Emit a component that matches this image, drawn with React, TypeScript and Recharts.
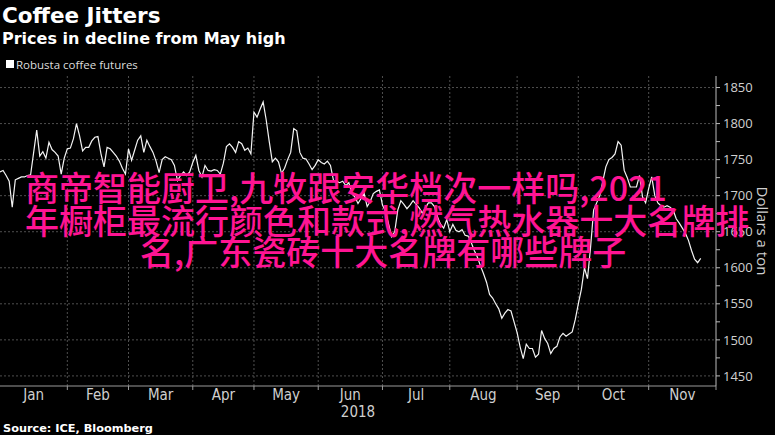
import React from 'react';
import { LineChart, Line, XAxis, YAxis, CartesianGrid } from 'recharts';

// Robusta coffee futures, daily closes 2018 (trading-day index), dollars a ton
const prices: number[] = [
  1733, 1735, 1728, 1720, 1684, 1722, 1724, 1726, 1726, 1728,
  1729, 1760, 1791, 1755, 1761, 1752, 1774, 1764, 1760, 1755,
  1730, 1752, 1765, 1766, 1779, 1800, 1783, 1762, 1767, 1767,
  1776, 1781, 1782, 1758, 1740, 1767, 1765, 1760, 1755, 1748,
  1738, 1730, 1765, 1749, 1763, 1777, 1783, 1760, 1777, 1768,
  1760, 1748, 1732, 1750, 1754, 1752, 1750, 1742, 1721, 1728,
  1733, 1728, 1733, 1746, 1756, 1735, 1726, 1742, 1735, 1734,
  1736, 1735, 1730, 1745, 1768, 1772, 1767, 1760, 1775, 1772,
  1763, 1766, 1758, 1816, 1809, 1820, 1830, 1805, 1775, 1747,
  1752, 1747, 1731, 1738, 1750, 1760, 1793, 1790, 1760, 1752,
  1751, 1744, 1736, 1742, 1750, 1746, 1744, 1748, 1742, 1721,
  1720, 1718, 1720, 1714, 1718, 1703, 1698, 1689, 1696, 1703,
  1685, 1692, 1703, 1706, 1708, 1687, 1678, 1660, 1643, 1650,
  1680, 1693, 1688, 1682, 1687, 1693, 1688, 1683, 1676, 1683,
  1690, 1690, 1685, 1670, 1660, 1655, 1667, 1650, 1660, 1652,
  1650, 1653, 1645, 1644, 1635, 1624, 1615, 1603, 1592, 1580,
  1563, 1558, 1550, 1543, 1530, 1537, 1542, 1540, 1525, 1510,
  1490, 1474, 1494, 1488, 1488, 1476, 1480, 1513, 1502, 1495,
  1481, 1488, 1491, 1504, 1509, 1505, 1508, 1511, 1528, 1550,
  1570, 1600, 1585, 1628, 1680, 1690, 1700, 1720, 1740, 1750,
  1753, 1758, 1775, 1770, 1735, 1725, 1712, 1712, 1712, 1728,
  1698, 1690, 1710, 1726, 1700, 1690, 1686, 1684, 1686, 1684,
  1680, 1668, 1662, 1655, 1648, 1638, 1624, 1612, 1607, 1613,
];

// trading-day index where each month begins (Feb .. Dec)
const monthStarts: number[] = [22, 42, 63, 83, 104, 125, 147, 169, 189, 212, 234];
// trading-day index of mid-month (label positions)
const monthMids: number[] = [11, 32, 52.5, 73, 93.5, 114.5, 136, 158, 179, 200.5, 223];
const monthLabels: string[] = ['Jan', 'Feb', 'Mar', 'Apr', 'May', 'Jun', 'Jul', 'Aug', 'Sep', 'Oct', 'Nov'];
const dayDomain: number[] = [0, 234];

const priceTicks: number[] = [1450, 1475, 1500, 1525, 1550, 1575, 1600, 1625, 1650, 1675, 1700, 1725, 1750, 1775, 1800, 1825, 1850];
const priceLabels: number[] = [1450, 1500, 1550, 1600, 1650, 1700, 1750, 1800, 1850];
const priceDomain: number[] = [1436, 1866];

const yearLabel = '2018';
const overlayLines: string[] = [
  '商帝智能厨卫,九牧跟安华档次一样吗,2021',
  '年橱柜最流行颜色和款式,燃气热水器十大名牌排',
  '名,广东瓷砖十大名牌有哪些牌子',
];

const data = prices.map((v, d) => ({ d, v }));
const xTicks = [...monthStarts, ...monthMids].sort((a, b) => a - b);

const NARROW = "'Liberation Sans Narrow', 'DejaVu Sans Condensed', 'Roboto', sans-serif";
const AXISFONT = "'Open Sans', 'Liberation Sans', sans-serif";
const BOLD = "'DejaVu Sans', sans-serif";

const MonthTick = (props: any) => {
  const { x, y, payload } = props;
  const v = payload.value;
  const si = monthStarts.indexOf(v);
  if (si >= 0) {
    return <line x1={x} y1={y} x2={x} y2={y + 4} stroke="#9a9a9a" strokeWidth={1} />;
  }
  const mi = monthMids.indexOf(v);
  return (
    <text x={x} y={y + 14} textAnchor="middle" fill="#cfcfcf" fontSize={15} fontFamily={NARROW}>
      {monthLabels[mi]}
    </text>
  );
};

const PriceTick = (props: any) => {
  const { x, y, payload } = props;
  if (!priceLabels.includes(payload.value)) return <g />;
  return (
    <text x={x} y={y} dy="0.36em" textAnchor="start" fill="#d0d0d0" fontSize={13} fontFamily={AXISFONT}>
      {payload.value}
    </text>
  );
};

const YTitle = (props: any) => {
  const vb = props.viewBox;
  const cx = vb.x + vb.width - 12;
  const cy = vb.y + vb.height / 2;
  return (
    <text x={cx} y={cy} transform={`rotate(90 ${cx} ${cy})`} textAnchor="middle" dominantBaseline="central"
      fill="#d0d0d0" fontSize={15} fontFamily={AXISFONT}>
      Dollars a ton
    </text>
  );
};

const YearLabel = (props: any) => {
  const vb = props.viewBox;
  return (
    <text x={vb.x + vb.width / 2} y={vb.y + 31} textAnchor="middle" fill="#cfcfcf" fontSize={15} fontFamily={NARROW}>
      {yearLabel}
    </text>
  );
};

export default function App() {
  return (
    <div style={{ position: 'fixed', left: 0, top: 0, width: 775, height: 435, background: '#000', overflow: 'hidden' }}>
      <LineChart width={775} height={435} data={data} margin={{ top: 76, right: 0, bottom: 0, left: 0 }}>
        <CartesianGrid
          horizontalValues={priceLabels}
          verticalValues={monthStarts.slice(0, -1)}
          stroke="#4f4f4f"
          strokeDasharray="2 2"
        />
        <XAxis
          dataKey="d"
          type="number"
          domain={dayDomain}
          ticks={xTicks}
          interval={0}
          tick={<MonthTick />}
          tickLine={false}
          tickSize={0}
          tickMargin={0}
          axisLine={{ stroke: '#9a9a9a' }}
          height={49}
          allowDataOverflow
          label={<YearLabel />}
        />
        <YAxis
          orientation="right"
          type="number"
          domain={priceDomain}
          ticks={priceTicks}
          interval={0}
          width={59}
          tickSize={4}
          tickMargin={3}
          tick={<PriceTick />}
          tickLine={{ stroke: '#bbbbbb' }}
          axisLine={{ stroke: '#bbbbbb' }}
          allowDataOverflow
          label={<YTitle />}
        />
        <Line
          type="linear"
          dataKey="v"
          stroke="#f4f4f4"
          strokeWidth={1.2}
          dot={false}
          isAnimationActive={false}
        />
      </LineChart>
      <svg width={775} height={435} style={{ position: 'absolute', left: 0, top: 0, pointerEvents: 'none' }}>
        <text x={2} y={23} fill="#ffffff" fontSize={21.5} fontWeight="bold" fontFamily={BOLD}>Coffee Jitters</text>
        <text x={2} y={43.5} fill="#ffffff" fontSize={16} fontWeight="bold" fontFamily={BOLD}>Prices in decline from May high</text>
        <rect x={6} y={60} width={8} height={8} fill="#ffffff" />
        <text x={16} y={68.5} fill="#dddddd" fontSize={11.5} fontFamily={AXISFONT}>Robusta coffee futures</text>
        <text x={3} y={432} fill="#ffffff" fontSize={11.3} fontWeight="bold" fontFamily={BOLD}>Source: ICE, Bloomberg</text>
        <g fill="#ff1493" fontSize={34} fontFamily="'Noto Sans CJK SC', sans-serif" fontWeight={500}>
          <text x={25} y={201}>{overlayLines[0]}</text>
          <text x={25} y={234}>{overlayLines[1]}</text>
          <text x={140} y={265}>{overlayLines[2]}</text>
        </g>
      </svg>
    </div>
  );
}
